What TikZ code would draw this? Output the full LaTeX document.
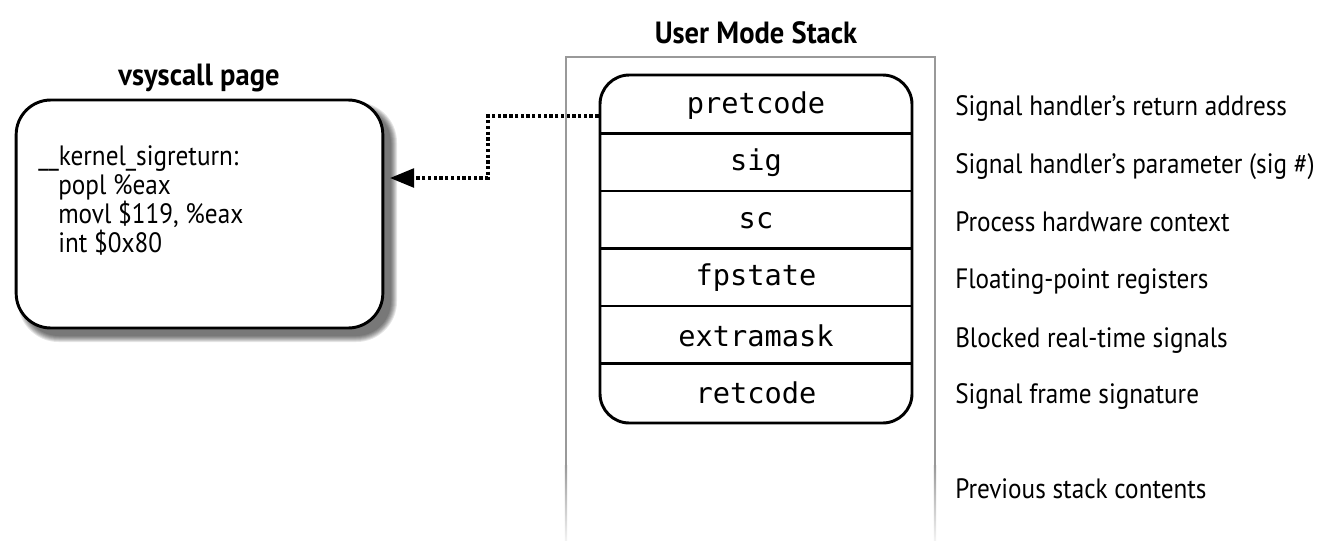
\documentclass[tikz,border=0pt]{standalone}
\usepackage{fontspec}
\setmainfont{PT Sans}
\newfontfamily\lblf{PT Sans}[FakeStretch=0.9]
\newfontfamily\titf{PT Sans}[FakeStretch=0.93]
\newfontfamily\monof{DejaVu Sans Mono}
\usetikzlibrary{arrows.meta}
\tikzset{
  title/.style={font=\titf\bfseries\fontsize{23}{26}\selectfont, inner sep=0pt, anchor=base},
  lbl/.style={font=\lblf\fontsize{21}{24}\selectfont, anchor=base west, inner sep=0pt},
  codeline/.style={font=\lblf\fontsize{21}{24}\selectfont, anchor=base west, inner sep=0pt},
  row/.style={minimum width=234pt, minimum height=43.2pt, inner sep=0pt, font=\monof\fontsize{21.5}{24}\selectfont},
  sep/.style={line width=2pt},
  stackline/.style={draw=gray!80, line width=1.8pt},
  ptr/.style={line width=2.5pt, dash pattern=on 2.5pt off 1.8pt, -{Triangle[length=18pt,width=14pt]}}
}
\begin{document}
\begin{tikzpicture}[x=0.75pt,y=-0.75pt]
\useasboundingbox (0,0) rectangle (1321,540);
% vsyscall page
\node[title] (vtitle) at (199,85) {vsyscall page};
\foreach \k in {0,...,6}{
  \fill[black, opacity=0.1, rounded corners=26pt+0.75*\k pt]
    (24-\k,108-\k) rectangle (391+\k,336+\k);
}
\node[draw, line width=2.2pt, rounded corners=26pt, fill=white,
      minimum width=275pt, minimum height=171pt, inner sep=0pt] (vs) at (199.5,214) {};
\node[codeline] (c1) at (38,165) {\_\_kernel\_sigreturn:};
\node[codeline] (c2) at (58,194) {popl \%eax};
\node[codeline] (c3) at (58,223) {movl \$119, \%eax};
\node[codeline] (c4) at (58,252) {int \$0x80};
% user mode stack
\node[title] (stitle) at (756,43) {User Mode Stack};
\coordinate (otl) at (566,57);
\coordinate (otr) at (935,57);
\coordinate (obl) at (566,465);
\coordinate (obr) at (935,465);
\draw[stackline] (obl) -- (otl) -- (otr) -- (obr);
\shade[top color=gray!80, bottom color=gray!10] (564.8,465) rectangle (567.2,540);
\shade[top color=gray!80, bottom color=gray!10] (933.8,465) rectangle (936.2,540);
\node[draw, line width=2.2pt, rounded corners=22pt, minimum width=234pt, minimum height=261pt, inner sep=0pt] (frame) at (756,249) {};
\node[row] (r1) at (756,105.5) {pretcode};
\node[row] (r2) at (756,163) {sig};
\node[row] (r3) at (756,220.5) {sc};
\node[row] (r4) at (756,278) {fpstate};
\node[row] (r5) at (756,335.5) {extramask};
\node[row] (r6) at (756,393) {retcode};
\foreach \r in {r1,r2,r3,r4,r5}{\draw[sep] ([yshift=0.75pt]\r.south west) -- ([yshift=0.75pt]\r.south east);}
% labels
\node[lbl] (l1) at (955,115) {Signal handler’s return address};
\node[lbl] (l2) at (955,173) {Signal handler’s parameter (sig \#)};
\node[lbl] (l3) at (955,231) {Process hardware context};
\node[lbl] (l4) at (955,288) {Floating-point registers};
\node[lbl] (l5) at (955,347) {Blocked real-time signals};
\node[lbl] (l6) at (955,403) {Signal frame signature};
\node[lbl] (l7) at (955,498) {Previous stack contents};
% pointer
\coordinate (a1) at (488,116);
\coordinate (a2) at (488,178);
\coordinate (tip) at (390,178);
\draw[ptr] (frame.west |- a1) -- (a1) -- (a2) -- (tip);
\end{tikzpicture}
\end{document}
